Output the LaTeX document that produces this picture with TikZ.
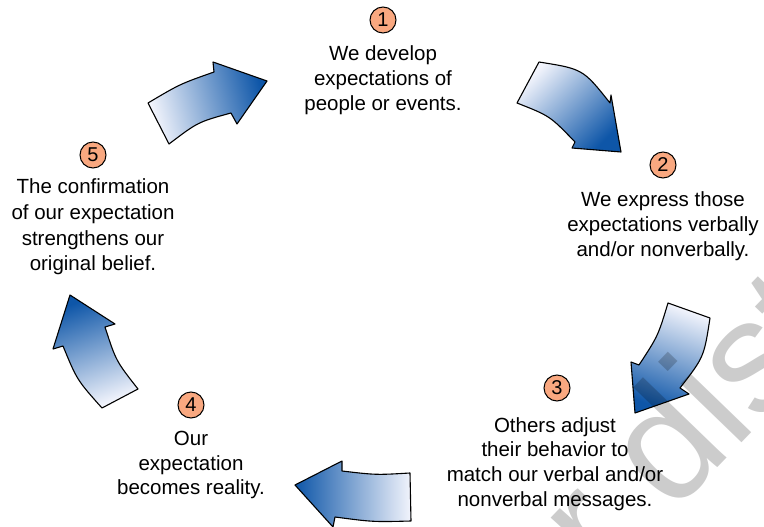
\documentclass[tikz,border=0pt]{standalone}
\usepackage{fontspec}
\setmainfont{Liberation Sans}
\usetikzlibrary{shadings}
\definecolor{peach}{RGB}{249,168,128}
\definecolor{bluedark}{RGB}{14,86,168}
\definecolor{bluelight}{RGB}{242,244,252}
\tikzset{
  txt/.style={align=center, inner sep=0pt, font=\fontsize{20.5}{24.8}\selectfont},
  num/.style={circle, draw=black, line width=1pt, fill=peach, minimum size=26pt, inner sep=0pt, font=\fontsize{20}{20}\selectfont},
  blockarrow/.style={draw=black, line width=1.1pt, line join=round, top color=bluelight, bottom color=bluedark},
  wm/.style={text=black, text opacity=0.2, font=\fontsize{160}{160}\selectfont, inner sep=0pt, anchor=base west}
}
\begin{document}
\begin{tikzpicture}[x=1pt,y=-1pt]
\useasboundingbox (0,0) rectangle (764,527);
\clip (0,0) rectangle (764,527);
% numbered circles
\node[num] (n1) at (383,20) {1};
\node[num] (n2) at (663,165) {2};
\node[num] (n3) at (557,388) {3};
\node[num] (n4) at (191,405) {4};
\node[num] (n5) at (93,155) {5};
% texts
\node[txt] (t1) at (383,80) {We develop\\expectations of\\people or events.};
\node[txt] (t2) at (663,226) {We express those\\expectations verbally\\and/or nonverbally.};
\node[txt] (t3) at (555,464) {Others adjust\\their behavior to\\match our verbal and/or\\nonverbal messages.};
\node[txt] (t4) at (191,465) {Our\\expectation\\becomes reality.};
\node[txt, font=\fontsize{20.5}{25.6}\selectfont] (t5) at (93,227) {The confirmation\\of our expectation\\strengthens our\\original belief.};
% arrows
\path[blockarrow, shading angle=105] (148,103) .. controls (180,84) .. (214,72) -- (213,62) -- (267,81) -- (237,124) -- (231,113) .. controls (198,122) .. (169,144) -- cycle;
\path[blockarrow, shading angle=45] (539,62) .. controls (583,69) .. (610,103) -- (611,95) -- (621,152) -- (572,148) -- (575,142) .. controls (550,116) .. (517,103) -- cycle;
\path[blockarrow, shading angle=-20] (668,303) -- (710,318) .. controls (704,357) .. (680,388) -- (689,394) -- (635,413) -- (631,362) -- (639,365) .. controls (658,336) .. (668,303) -- cycle;
\path[blockarrow, shading angle=-90] (410,473) .. controls (376,475) .. (342,471) -- (342,461) -- (295,485) -- (333,527) -- (335,517) .. controls (373,522) .. (411,521) -- cycle;
\path[blockarrow, shading angle=200] (70,295) -- (115,324) -- (105,327) .. controls (116,361) .. (138,389) -- (102,408) .. controls (77,380) .. (63,346) -- (53,349) -- cycle;
% watermark
\node[wm, rotate=46] (wm) at (543,649) {or dist};
\end{tikzpicture}
\end{document}
